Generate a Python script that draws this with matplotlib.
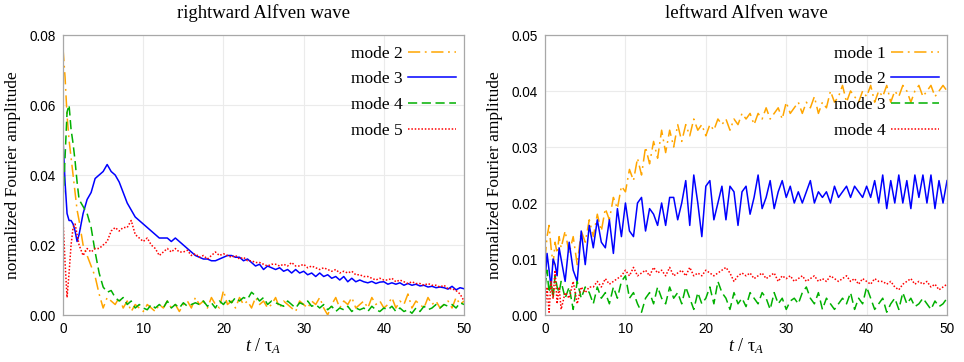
import matplotlib.pyplot as plt
import numpy as np

# time samples (finer at the start)
t = np.concatenate([np.arange(0, 2, 0.25), np.arange(2, 50.01, 0.5)])

# rightward Alfven wave, amplitudes in units of 1e-3
r_mode2 = [76, 68, 57, 50, 45, 40, 35, 30,
           27, 20, 17, 14, 11, 6, 2, 5, 4, 3,
           5, 2, 4, 1, 3, 2, 1, 3, 2, 1,
           3, 2, 4, 2, 3, 1, 3, 4, 2, 5,
           3, 4, 2, 5, 3, 2, 7, 3, 4, 2,
           5, 3, 4, 2, 5, 3, 4, 2, 3, 5,
           2, 4, 3, 2, 1, 4, 3, 2, 4, 3,
           5, 2, 0, 3, 5, 2, 4, 3, 5, 2,
           3, 4, 2, 5, 3, 4, 2, 3, 5, 2,
           4, 3, 6, 2, 4, 3, 2, 5, 3, 4,
           2, 3, 4, 2, 5, 3, 4]
r_mode3 = [50, 38, 29, 27, 27, 26, 24, 21,
           23, 29, 33, 35, 39, 40, 41, 43, 41, 40,
           38, 35, 32, 30, 28, 27, 26, 25, 24, 23,
           22, 22, 22, 21, 22, 21, 20, 19, 18, 17,
           16.5, 16, 16, 15.5, 15.5, 16, 16.5, 17, 17, 16.5,
           16.5, 15.5, 16, 15, 14, 14.5, 13, 14, 13.5, 13,
           13.5, 12.5, 13, 12, 13, 12, 12.5, 11.5, 12, 11,
           12, 11, 11.5, 10.5, 11, 10, 11, 9.5, 10.5, 9.5,
           10, 9.5, 9.2, 9.6, 9, 9.4, 9.5, 8.8, 9.2, 8.8,
           9.2, 8.5, 9, 8.5, 8.8, 8.3, 8.5, 8, 8.2, 7.8,
           8, 7.8, 7.4, 8.2, 7.2, 7.8, 7.5]
r_mode4 = [33, 45, 58, 60, 53, 49, 44, 38,
           33, 31, 29, 25, 18, 12, 8, 6.5, 7, 5,
           4, 5, 3, 4, 2, 3, 2, 1.5, 3, 2,
           3, 2, 4, 2, 3, 2, 3.5, 2.5, 3, 3.5,
           3, 4, 2.5, 3.5, 2, 4, 3, 4.5, 3.5, 5,
           4, 5, 4.5, 6.5, 5.5, 4, 5, 3, 4, 3.5,
           3, 2.5, 4, 3, 2, 3.5, 3, 4, 2.5, 3,
           2, 3, 1.5, 2.5, 1, 2, 1.5, 2.5, 1, 2,
           1.5, 2, 1, 2.5, 1.5, 1, 2, 1.5, 2.5, 1,
           2, 1, 1.5, 0.5, 2, 1, 2.5, 1.5, 2, 3,
           2, 3, 2.5, 3, 2, 3.5, 3]
r_mode5 = [27, 15, 5, 12, 20, 25, 26, 23,
           20, 17, 19, 18, 19, 19, 20, 21, 24, 25,
           24, 25, 25, 27, 23, 22, 21, 22, 20, 19,
           17, 18, 19, 18, 19, 18, 18, 18.5, 17, 17.5,
           16.5, 17, 16, 17, 18, 17, 17.5, 17, 16.5, 17,
           16, 16.5, 15.5, 15.5, 15, 15, 14.5, 14, 14.5, 14.5,
           14, 14.5, 14, 15, 14, 14, 14.5, 13.5, 14, 13.5,
           13, 13.5, 13, 12.5, 13, 12, 12.5, 12, 12.5, 11.5,
           11.5, 11, 11, 10.5, 10, 10.5, 10, 10, 10.5, 9.5,
           10, 9.5, 9, 9.5, 9, 9, 8.5, 9, 8.5, 8.5,
           8, 8.5, 7.5, 7.5, 7, 6, 4]

# leftward Alfven wave, amplitudes in units of 1e-3
l_mode1 = [10, 14, 16, 12, 9, 13, 11, 14,
           12, 15, 11, 14, 9, 15, 13, 17, 14, 18,
           15, 19, 17, 21, 19, 23, 22, 26, 24, 28,
           25, 30, 27, 31, 28, 33, 29, 33, 30, 34,
           31, 34, 32, 35, 33, 34, 32, 34, 33, 35,
           34, 35, 33, 35, 34, 36, 35, 36, 34, 36,
           35, 37, 35, 36, 37, 35, 38, 36, 37, 38,
           36, 38, 37, 39, 36, 38, 37, 40, 38, 39,
           41, 38, 40, 39, 38, 40, 39, 41, 38, 40,
           39, 41, 38, 40, 39, 41, 40, 38, 40, 41,
           39, 40, 41, 39, 40, 41, 40]
l_mode2 = [6, 11, 8, 5, 10, 9, 7, 12,
           10, 6, 13, 8, 6, 15, 9, 16, 12, 17,
           13, 12, 17, 11, 19, 14, 20, 15, 14, 20,
           21, 15, 19, 18, 16, 20, 16, 21, 21, 17,
           20, 24, 16, 25, 20, 14, 23, 24, 17, 20,
           23, 17, 23, 22, 16, 22, 23, 18, 21, 25,
           19, 21, 24, 19, 22, 24, 21, 23, 20, 22,
           20, 22, 24, 20, 22, 21, 22, 20, 23, 21,
           22, 23, 21, 23, 22, 21, 23, 21, 24, 20,
           25, 19, 24, 20, 25, 20, 24, 19, 25, 21,
           25, 20, 25, 19, 24, 20, 24]
l_mode3 = [5, 8, 4, 6, 3, 7, 5, 4,
           6, 3, 5, 1, 6, 3, 5, 4, 2, 5,
           3, 4, 2, 5, 3, 6, 7, 3, 4, 2,
           0.5, 3, 4, 2, 5, 3, 2, 5, 3, 4,
           2, 5, 3, 1, 4, 2, 3, 5, 2, 6,
           4, 3, 1, 4, 2, 3, 1.5, 4, 3, 2,
           4, 3, 1, 4, 2, 3, 1, 2.5, 3, 2,
           4, 5, 3, 2, 4, 1, 3, 2, 1, 2,
           3, 2, 4, 1, 3, 2, 5, 3, 1, 2,
           3, 0.5, 2, 3, 1, 4, 2, 3, 1.5, 2,
           3, 2, 1, 2.5, 1.5, 2, 3]
l_mode4 = [1, 5, 0.5, 6, 3, 8, 2, 5,
           1, 4, 3, 6, 2, 5, 4, 5, 5, 6,
           5, 6.5, 5.5, 6, 6.5, 7, 8, 7, 8.5, 7,
           7.5, 8, 7, 8.5, 7.5, 8, 7, 8.5, 7, 7.5,
           8, 7, 8.5, 7, 7.5, 7, 8, 7.5, 7, 7.5,
           8, 8.5, 7.5, 6, 7, 7.5, 7, 7.5, 6.5, 7,
           7.5, 6.5, 7, 7.5, 6, 7, 6.5, 7, 6, 6.5,
           7, 6, 6.5, 7, 6, 6.5, 6, 7, 6.5, 6,
           6.5, 7, 6, 6.5, 5.5, 6.5, 6, 5.5, 6.5, 6,
           6, 5.5, 6, 5, 4.5, 5.5, 6, 6.5, 5.5, 6,
           5.5, 6, 5, 5.5, 4.5, 5, 5.5]

orange = '#FFA500'
blue = '#0000FF'
green = '#00B000'
red = '#FF0000'
ls_dashdot = (0, (8, 3, 1.2, 3))
ls_dash = (0, (6, 3))
ls_dot = (0, (1, 1.2))

serif = 'Liberation Serif'
plt.rcParams['font.family'] = 'Liberation Sans'
plt.rcParams['mathtext.fontset'] = 'custom'
plt.rcParams['mathtext.rm'] = serif
plt.rcParams['mathtext.it'] = serif + ':italic'

fig = plt.figure(figsize=(9.64, 3.62), dpi=100)
ax1 = fig.add_axes([0.0654, 0.1298, 0.416, 0.7735])
ax2 = fig.add_axes([0.5654, 0.1298, 0.417, 0.7735])

panels = [
    (ax1, 'rightward Alfven wave', 0.08, 0.02,
     [(r_mode2, 'mode 2', orange, ls_dashdot),
      (r_mode3, 'mode 3', blue, '-'),
      (r_mode4, 'mode 4', green, ls_dash),
      (r_mode5, 'mode 5', red, ls_dot)]),
    (ax2, 'leftward Alfven wave', 0.05, 0.01,
     [(l_mode1, 'mode 1', orange, ls_dashdot),
      (l_mode2, 'mode 2', blue, '-'),
      (l_mode3, 'mode 3', green, ls_dash),
      (l_mode4, 'mode 4', red, ls_dot)]),
]

for ax, title, ymax, ystep, series in panels:
    for vals, lab, col, ls in series:
        ax.plot(t, np.array(vals) / 1000, color=col, linestyle=ls, lw=1.1, label=lab)
    ax.set_xlim(0, 50)
    ax.set_ylim(0, ymax)
    ax.set_xticks(np.arange(0, 51, 10))
    ax.set_yticks(np.arange(0, ymax + 1e-9, ystep))
    ax.set_yticklabels(['%.2f' % v for v in np.arange(0, ymax + 1e-9, ystep)])
    ax.grid(True, color='#EBEBEB', lw=0.8)
    ax.set_axisbelow(True)
    for sp in ax.spines.values():
        sp.set_color('#A8A8A8')
        sp.set_linewidth(0.9)
    ax.tick_params(length=0, labelsize=9.8, pad=5)
    ax.set_title(title, family=serif, fontsize=13.5, pad=12)
    ax.set_ylabel('normalized Fourier amplitude', family=serif, fontsize=12.5, labelpad=6)
    ax.set_xlabel(r'$t$ / τ$_A$', family=serif, fontsize=13, labelpad=0)
    ax.legend(loc='upper right', bbox_to_anchor=(1.0, 0.99), frameon=False,
              markerfirst=False, prop={'family': serif, 'size': 12.5},
              handlelength=2.8, handletextpad=0.3, labelspacing=0.55,
              borderaxespad=0.05)

fig.savefig('out.png', dpi=100)
